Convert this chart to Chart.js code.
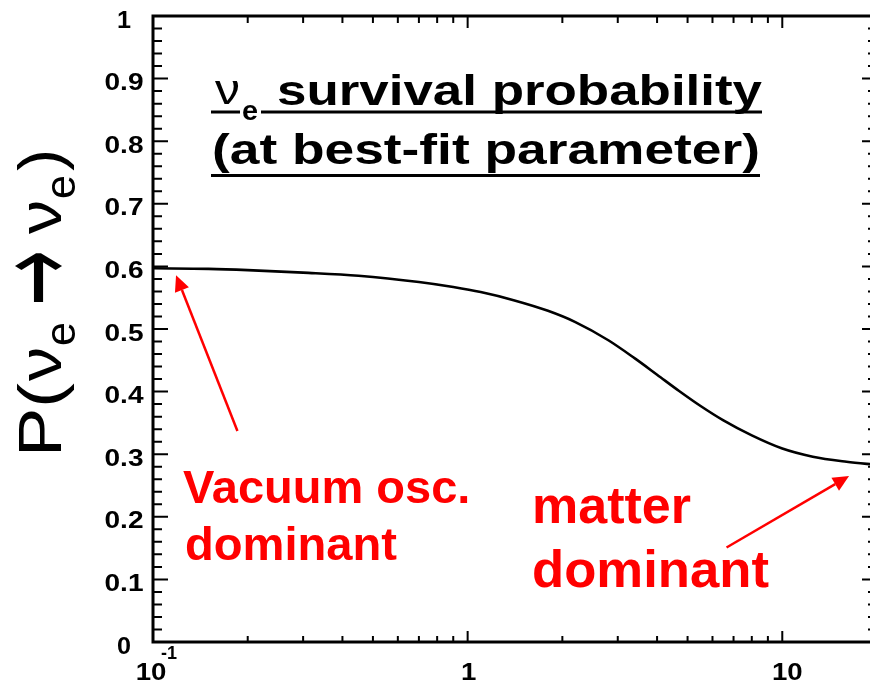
<!DOCTYPE html>
<html>
<head>
<meta charset="utf-8">
<script src="https://cdn.jsdelivr.net/npm/chart.js@4"></script>
<style>
  html, body { margin: 0; padding: 0; background: #fff; overflow: hidden; }
  #wrap { width: 870px; height: 684px; overflow: hidden; }
</style>
</head>
<body>
<div id="wrap"><canvas id="chart" width="877" height="684"></canvas></div>
<script>
// electron-neutrino energy and survival probability along the best-fit curve
const energy   = [0.1, 0.15, 0.2, 0.3, 0.45, 0.7, 0.9, 1.1, 1.4, 1.8, 2.2, 2.8, 3.4, 4, 4.7, 5.5, 6.5, 8, 10, 12.5, 16, 20];
const survival = [0.597, 0.596, 0.594, 0.590, 0.585, 0.575, 0.567, 0.559, 0.546, 0.529, 0.511, 0.482, 0.453, 0.427, 0.401, 0.377, 0.354, 0.330, 0.309, 0.296, 0.288, 0.283];

// axis ticks
const yTicks  = [0, 0.1, 0.2, 0.3, 0.4, 0.5, 0.6, 0.7, 0.8, 0.9, 1];
const yLabels = ['0', '0.1', '0.2', '0.3', '0.4', '0.5', '0.6', '0.7', '0.8', '0.9', '1'];
const xMajor  = [0.1, 1, 10];
const xMinor  = [0.2, 0.3, 0.4, 0.5, 0.6, 0.7, 0.8, 0.9, 2, 3, 4, 5, 6, 7, 8, 9, 20];

// annotation arrows, [fromE, fromP, toE, toP]
const vacuumArrow = [0.1855, 0.337, 0.1184, 0.586];
const matterArrow = [6.65, 0.151, 16.3, 0.265];

const FONT = '"Liberation Sans", Arial, sans-serif';
const RED = '#ff0000';

// draw text squeezed/stretched horizontally to a given width
function fitText(ctx, str, x, y, w, align) {
  const m = ctx.measureText(str).width;
  ctx.save();
  ctx.translate(x, y);
  ctx.scale(w / m, 1);
  ctx.textAlign = align || 'left';
  ctx.fillText(str, 0, 0);
  ctx.restore();
}

function scaledText(ctx, str, x, y, sx, align) {
  ctx.save();
  ctx.translate(x, y);
  ctx.scale(sx, 1);
  ctx.textAlign = align || 'left';
  ctx.fillText(str, 0, 0);
  ctx.restore();
}

function drawArrow(ctx, x, y, a) {
  const x0 = x.getPixelForValue(a[0]), y0 = y.getPixelForValue(a[1]);
  const x1 = x.getPixelForValue(a[2]), y1 = y.getPixelForValue(a[3]);
  const ang = Math.atan2(y1 - y0, x1 - x0);
  const len = 16, half = 7.5;
  const bx = x1 - len * Math.cos(ang), by = y1 - len * Math.sin(ang);
  ctx.strokeStyle = RED;
  ctx.fillStyle = RED;
  ctx.lineWidth = 2.5;
  ctx.beginPath();
  ctx.moveTo(x0, y0);
  ctx.lineTo(bx, by);
  ctx.stroke();
  ctx.beginPath();
  ctx.moveTo(x1, y1);
  ctx.lineTo(bx + half * Math.sin(ang), by - half * Math.cos(ang));
  ctx.lineTo(bx - half * Math.sin(ang), by + half * Math.cos(ang));
  ctx.closePath();
  ctx.fill();
}

const framePlugin = {
  id: 'frame',
  afterDraw(chart) {
    const { ctx, chartArea: a, scales: { x, y } } = chart;
    ctx.save();
    ctx.strokeStyle = '#000';
    ctx.fillStyle = '#000';
    ctx.lineWidth = 3;
    ctx.strokeRect(a.left, a.top, a.right - a.left, a.bottom - a.top);

    // y ticks, inward on both sides
    ctx.lineWidth = 2;
    ctx.beginPath();
    for (let i = 0; i <= 50; i++) {
      const py = y.getPixelForValue(i * 0.02);
      const len = i % 5 === 0 ? 15 : 9;
      ctx.moveTo(a.left, py); ctx.lineTo(a.left + len, py);
      ctx.moveTo(a.right, py); ctx.lineTo(a.right - len, py);
    }
    // x ticks, inward on bottom and top
    xMajor.forEach(v => {
      const px = x.getPixelForValue(v);
      ctx.moveTo(px, a.bottom); ctx.lineTo(px, a.bottom - 11);
      ctx.moveTo(px, a.top); ctx.lineTo(px, a.top + 12);
    });
    xMinor.forEach(v => {
      const px = x.getPixelForValue(v);
      ctx.moveTo(px, a.bottom); ctx.lineTo(px, a.bottom - 6);
      ctx.moveTo(px, a.top); ctx.lineTo(px, a.top + 7);
    });
    ctx.stroke();

    // y tick labels
    ctx.font = 'bold 23px ' + FONT;
    ctx.textBaseline = 'alphabetic';
    yTicks.forEach((v, i) => {
      const str = yLabels[i];
      const w = str.length > 1 ? 39 : 14;
      fitText(ctx, str, 124, y.getPixelForValue(v) + 11.5, w, 'center');
    });

    // x tick labels
    ctx.font = 'bold 24px ' + FONT;
    const p01 = x.getPixelForValue(xMajor[0]);
    scaledText(ctx, '10', p01 - 2, 680, 1.15, 'center');
    scaledText(ctx, '1', x.getPixelForValue(xMajor[1]) + 1, 680, 1.15, 'center');
    scaledText(ctx, '10', x.getPixelForValue(xMajor[2]) + 5, 680, 1.15, 'center');
    ctx.font = 'bold 18px ' + FONT;
    ctx.fillText('-1', p01 + 8, 659);

    // y axis title P(νe → νe), rotated; [text, font, length along axis, baseline shift]
    ctx.save();
    ctx.translate(61, 457);
    ctx.rotate(-Math.PI / 2);
    const parts = [
      ['P(', '62px ' + FONT, 74, 0],
      ['\u03bd', '62px ' + FONT, 34, 0],
      ['e', '42px ' + FONT, 24, 14],
      ['\u2192', '110px "DejaVu Sans"', 56, 12],
      ['\u03bd', '62px ' + FONT, 34, 0],
      ['e', '42px ' + FONT, 24, 14],
      [')', '62px ' + FONT, 22, 0]
    ];
    const gaps = [0, 2, 1, 16, 16, 1, 4];
    let cx = 0;
    parts.forEach((p, i) => {
      cx += gaps[i];
      ctx.font = p[1];
      fitText(ctx, p[0], cx, p[3], p[2]);
      cx += p[2];
    });
    ctx.restore();

    // boxed title
    ctx.font = '43px ' + FONT;
    fitText(ctx, '\u03bd', 215, 104, 25);
    ctx.font = 'bold 28px ' + FONT;
    fitText(ctx, 'e', 242, 120, 16);
    ctx.font = 'bold 43px ' + FONT;
    fitText(ctx, 'survival probability', 277, 105, 485);
    fitText(ctx, '(at best-fit parameter)', 212, 164, 548);
    ctx.fillRect(211, 110.5, 29, 3);
    ctx.fillRect(261, 110.5, 501, 3);
    ctx.fillRect(211, 174, 549, 3);

    // red annotations
    drawArrow(ctx, x, y, vacuumArrow);
    drawArrow(ctx, x, y, matterArrow);
    ctx.fillStyle = RED;
    ctx.font = 'bold 47px ' + FONT;
    ctx.fillText('Vacuum osc.', 183, 503);
    fitText(ctx, 'dominant', 185, 560, 212);
    ctx.font = 'bold 52px ' + FONT;
    ctx.fillText('matter', 532, 523);
    fitText(ctx, 'dominant', 532, 587, 237);
    ctx.restore();
  }
};

new Chart(document.getElementById('chart'), {
  type: 'line',
  data: {
    datasets: [{
      data: energy.map((e, i) => ({ x: e, y: survival[i] })),
      borderColor: '#000',
      borderWidth: 2.6,
      pointRadius: 0,
      fill: false,
      cubicInterpolationMode: 'monotone'
    }]
  },
  options: {
    responsive: false,
    animation: false,
    layout: { padding: { top: 16, right: 0, left: 0, bottom: 0 } },
    plugins: { legend: { display: false }, tooltip: { enabled: false } },
    scales: {
      x: {
        type: 'logarithmic',
        min: 0.1,
        max: 20,
        grid: { display: false },
        border: { display: false },
        ticks: { display: false },
        afterFit: s => { s.height = 42; }
      },
      y: {
        min: 0,
        max: 1,
        grid: { display: false },
        border: { display: false },
        ticks: { display: false, stepSize: 0.1 },
        afterFit: s => { s.width = 153; }
      }
    }
  },
  plugins: [framePlugin]
});
</script>
</body>
</html>
